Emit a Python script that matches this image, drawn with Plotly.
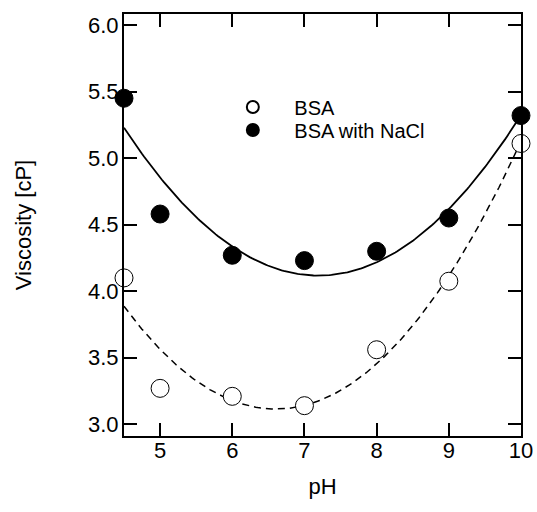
import numpy as np
import plotly.graph_objects as go

ph = [4.5, 5, 6, 7, 8, 9, 10]
bsa = [4.10, 3.27, 3.21, 3.14, 3.56, 4.075, 5.11]
bsa_nacl = [5.45, 4.58, 4.27, 4.23, 4.30, 4.55, 5.32]
x_ticks = [5, 6, 7, 8, 9, 10]
y_ticks = [3.0, 3.5, 4.0, 4.5, 5.0, 5.5, 6.0]

xs = np.linspace(min(ph), max(ph), 200)
fit_bsa = np.polyval(np.polyfit(ph, bsa, 2), xs)
fit_nacl = np.polyval(np.polyfit(ph, bsa_nacl, 2), xs)

FONT = "Liberation Sans, Arial"

fig = go.Figure()
fig.add_trace(go.Scatter(x=xs, y=fit_nacl, mode="lines", line=dict(color="black", width=1.8),
                         showlegend=False, hoverinfo="skip"))
fig.add_trace(go.Scatter(x=xs, y=fit_bsa, mode="lines", line=dict(color="black", width=1.5, dash="7px,5px"),
                         showlegend=False, hoverinfo="skip"))
fig.add_trace(go.Scatter(x=ph, y=bsa, mode="markers", name="BSA", cliponaxis=False, legend="legend",
                         marker=dict(size=18, color="white", line=dict(color="black", width=1))))
fig.add_trace(go.Scatter(x=ph, y=bsa_nacl, mode="markers", name="BSA with NaCl", cliponaxis=False,
                         legend="legend2",
                         marker=dict(size=18, color="black", line=dict(color="black", width=1))))

axis_common = dict(showline=True, linecolor="black", linewidth=2, mirror="ticks",
                   ticks="inside", ticklen=13, tickwidth=2, tickcolor="black",
                   showgrid=False, zeroline=False, automargin=False,
                   tickfont=dict(family=FONT, size=22, color="black"))

fig.update_xaxes(range=[4.5, 10], tickvals=x_ticks, ticktext=[str(v) for v in x_ticks],
                 title=dict(text="pH", font=dict(family=FONT, size=22, color="black"), standoff=16),
                 ticklabelstandoff=-6, **axis_common)
fig.update_yaxes(range=[2.912, 6.083], tickvals=y_ticks, ticktext=[f"{v:.1f}" for v in y_ticks],
                 title=dict(text="Viscosity [cP]", font=dict(family=FONT, size=22, color="black"), standoff=50),
                 ticklabelstandoff=-1, **axis_common)

leg_common = dict(xanchor="left", yanchor="middle", bgcolor="rgba(0,0,0,0)",
                  itemsizing="constant", itemwidth=73,
                  font=dict(family=FONT, size=20, color="black"))
fig.update_layout(
    width=537, height=512,
    margin=dict(l=124, r=16, t=14, b=76, autoexpand=False),
    paper_bgcolor="white", plot_bgcolor="white",
    showlegend=True,
    legend=dict(x=0.22, y=1 - (107 - 14) / 422, **leg_common),
    legend2=dict(x=0.22, y=1 - (130 - 14) / 422, **leg_common),
)

fig.write_html("out.html")
